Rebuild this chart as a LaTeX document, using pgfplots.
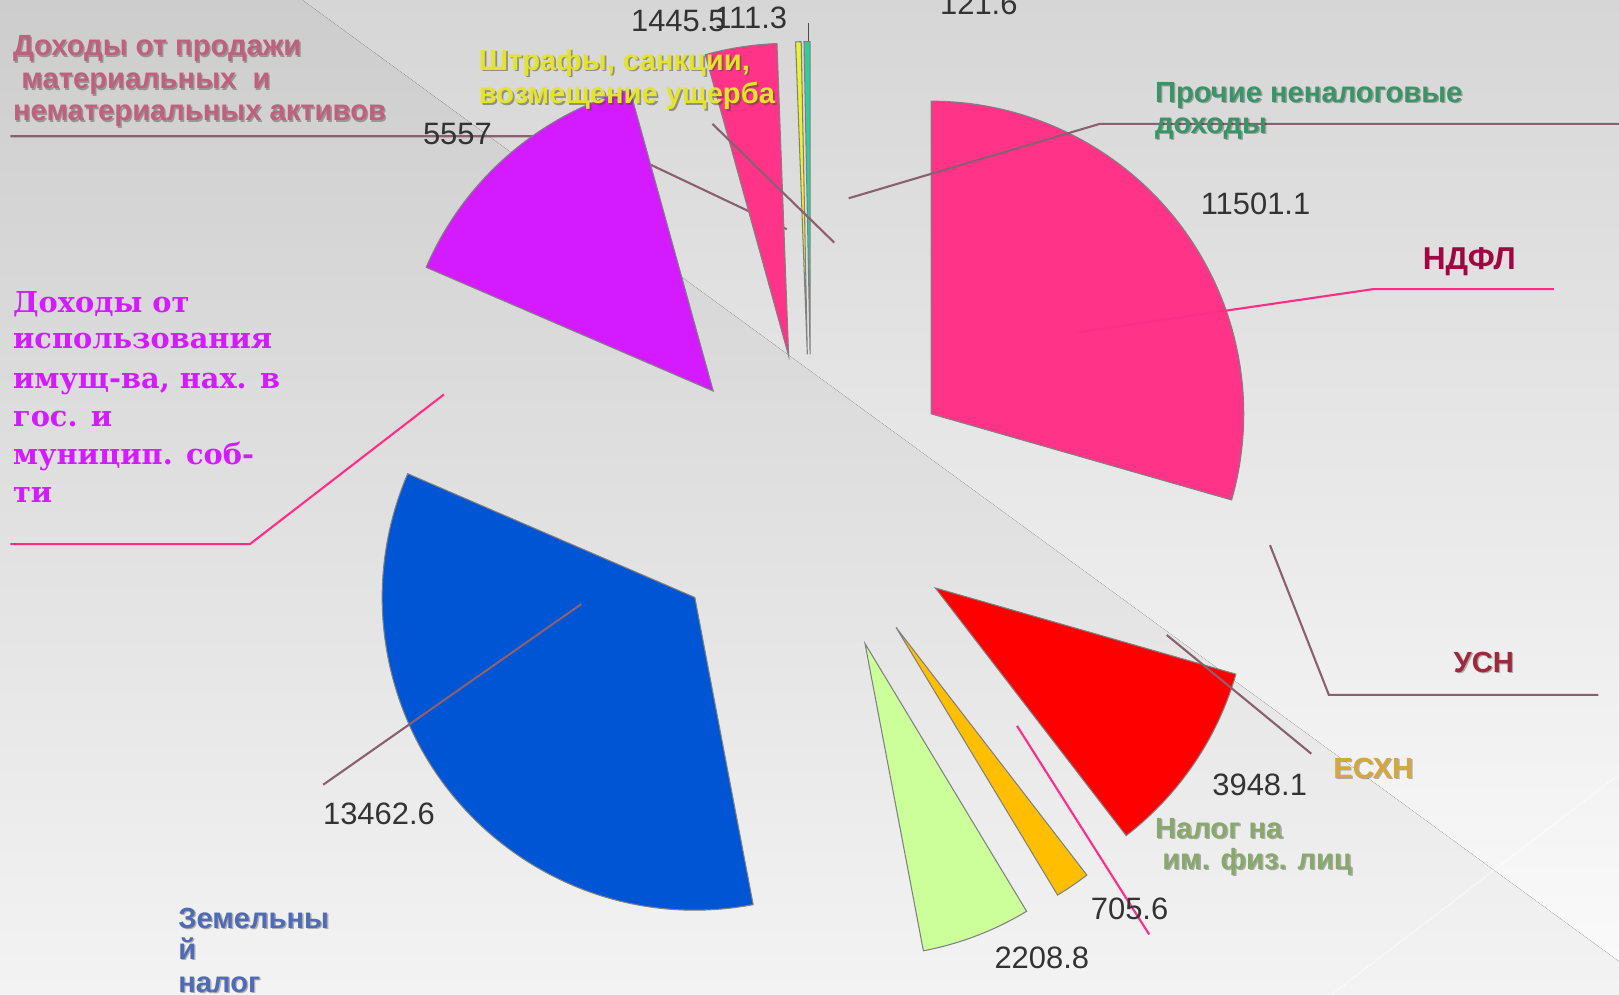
\documentclass[border=0pt]{standalone}
\usepackage{fontspec}
\setmainfont{Liberation Sans}
\newfontfamily\slab{DejaVu Serif}
\usepackage{pgfplots}
\usepackage{pgfplotstable}
\pgfplotsset{compat=1.18}

\definecolor{cNDFL}{HTML}{FF3388}
\definecolor{cUSN}{HTML}{FF0000}
\definecolor{cESHN}{HTML}{FFBF00}
\definecolor{cIFL}{HTML}{CCFF99}
\definecolor{cZEM}{HTML}{0055D4}
\definecolor{cISP}{HTML}{D41AFF}
\definecolor{cPROD}{HTML}{FF3388}
\definecolor{cSHTR}{HTML}{EEF22A}
\definecolor{cPROCH}{HTML}{33CC99}
\definecolor{leadM}{HTML}{8A6070}
\definecolor{leadP}{HTML}{FF2D87}
\definecolor{numc}{HTML}{333333}
\definecolor{bgTop}{HTML}{CDCDCD}
\definecolor{bgBot}{HTML}{F3F3F3}
\definecolor{bgTopL}{HTML}{D6D6D6}
\definecolor{bgBotL}{HTML}{FAFAFA}
\definecolor{tProd}{RGB}{192,96,126}
\definecolor{tShtr}{RGB}{228,228,44}
\definecolor{tProch}{RGB}{58,148,102}
\definecolor{tNDFL}{RGB}{158,8,66}
\definecolor{tUSN}{RGB}{160,40,60}
\definecolor{tESHN}{RGB}{212,168,60}
\definecolor{tIFL}{RGB}{136,168,108}
\definecolor{tZem}{RGB}{79,107,181}

% values of the pie, clockwise from 12 o'clock
\pgfplotstableread{
name value col
NDFL 11501.1 cNDFL
USN 3948.1 cUSN
ESHN 705.6 cESHN
IFL 2208.8 cIFL
ZEM 13462.6 cZEM
ISP 5557 cISP
PROD 1445.5 cPROD
SHTR 111.3 cSHTR
PROCH 121.6 cPROCH
}\piedata

\gdef\total{0}
\foreach \i in {0,...,8}{%
  \pgfplotstablegetelem{\i}{value}\of\piedata
  \xdef\total{\fpeval{\total+\pgfplotsretval}}%
}
\gdef\cum{0}
\foreach \i in {0,...,8}{%
  \pgfplotstablegetelem{\i}{value}\of\piedata
  \let\v\pgfplotsretval
  \expandafter\xdef\csname aS\i\endcsname{\fpeval{90-360*\cum/\total}}%
  \xdef\cum{\fpeval{\cum+\v}}%
  \expandafter\xdef\csname aE\i\endcsname{\fpeval{90-360*\cum/\total}}%
  \expandafter\xdef\csname aM\i\endcsname{\fpeval{(\csname aS\i\endcsname+\csname aE\i\endcsname)/2}}%
  \pgfplotstablegetelem{\i}{col}\of\piedata
  \expandafter\xdef\csname col\i\endcsname{\pgfplotsretval}%
}
\def\rad{3.128cm}
\def\expl{1.497cm}

\tikzset{
  lab/.style={anchor=base west, inner sep=0pt, font=\fontsize{8.3}{9.3}\selectfont\bfseries},
  num/.style={anchor=center, inner sep=0pt, text=numc, font=\fontsize{8.8}{10}\selectfont},
  slabl/.style={anchor=base west, inner sep=0pt, text={cISP}, font=\slab\fontsize{8.2}{10}\selectfont\bfseries},
  lm/.style={draw=leadM, line width=0.6pt},
  lp/.style={draw=leadP, line width=0.6pt},
}
% label with a soft dark shadow: [anchor]{x}{y}{colour}{text}
\newcommand\lbl[5][base west]{%
  \node[lab, anchor=#1, text=black, opacity=0.28, xshift=0.4pt, yshift=-0.4pt] at (axis cs:#2,#3) {#5};
  \node[lab, anchor=#1, text=#4] at (axis cs:#2,#3) {#5};}

\begin{document}
\begin{tikzpicture}
\begin{axis}[x=0.010325cm, y=0.010325cm, xmin=0, xmax=1568, ymin=0, ymax=963,
  y dir=reverse, hide axis, enlargelimits=false, clip=true]
% background
\fill[top color=bgTop, bottom color=bgBot] (axis cs:0,0) rectangle (axis cs:1568,963);
\fill[top color=bgTopL, bottom color=bgBotL] (axis cs:293,0) -- (axis cs:1568,0) -- (axis cs:1568,931) -- cycle;
\draw[white, opacity=0.45, line width=0.4pt] (axis cs:1568,750) -- (axis cs:1290,963);
\coordinate (TL) at (axis cs:0,0);
\coordinate (BR) at (axis cs:1568,963);

% leader drawn beneath the slices
\draw[lm] (axis cs:10,132) -- (axis cs:572,132) -- (axis cs:762,222);

% slices
\pgfplotsinvokeforeach{0,...,8}{
  \filldraw[fill=\csname col#1\endcsname, draw=black!50, line width=0.3pt]
    ([shift={(\csname aM#1\endcsname:\expl)}]axis cs:786,488)
    -- ++(\csname aS#1\endcsname:\rad)
    arc[start angle=\csname aS#1\endcsname, end angle=\csname aE#1\endcsname, radius=\rad]
    -- cycle;
}

% leaders
\draw[lm] (axis cs:690,120) -- (axis cs:808,235);
\draw[lm] (axis cs:822,192) -- (axis cs:1065,120) -- (axis cs:1568,120);
\draw[lp] (axis cs:1043,322) -- (axis cs:1330,280) -- (axis cs:1505,280);
\draw[lp] (axis cs:10,527) -- (axis cs:242,527) -- (axis cs:430,382);
\draw[lm] (axis cs:313,760) -- (axis cs:563,585);
\draw[lm] (axis cs:1230,528) -- (axis cs:1287,673) -- (axis cs:1548,673);
\draw[lm] (axis cs:1130,615) -- (axis cs:1270,730);
\draw[lp] (axis cs:985,703) -- (axis cs:1113,905);
\draw[black!70, line width=0.5pt] (axis cs:783,22) -- (axis cs:783,40);

% value labels
\node[num] at (axis cs:657,20) {1445.5};
\node[num] at (axis cs:727,17) {111.3};
\node[num] at (axis cs:948,4) {121.6};
\node[num] at (axis cs:443,130) {5557};
\node[num] at (axis cs:1216,197) {11501.1};
\node[num] at (axis cs:1220,760) {3948.1};
\node[num] at (axis cs:1094,880) {705.6};
\node[num] at (axis cs:1009,928) {2208.8};
\node[num] at (axis cs:367,788) {13462.6};

% category labels
\lbl{12}{54}{tProd}{Доходы от продажи}
\lbl{20}{86}{tProd}{материальных\ \ и}
\lbl{12}{117}{tProd}{нематериальных активов}

\node[lab, text=black!60!olive, opacity=0.5, xshift=0.5pt, yshift=-0.5pt] at (axis cs:463,68) {Штрафы, санкции,};
\node[lab, text=tShtr] at (axis cs:463,68) {Штрафы, санкции,};
\node[lab, text=black!60!olive, opacity=0.5, xshift=0.5pt, yshift=-0.5pt] at (axis cs:463,100) {возмещение ущерба};
\node[lab, text=tShtr] at (axis cs:463,100) {возмещение ущерба};

\lbl{1118}{99}{tProch}{Прочие неналоговые}
\lbl{1118}{129}{tProch}{доходы}

\node[lab, anchor=base, text=tNDFL, font=\fontsize{9}{10}\selectfont\bfseries] at (axis cs:1423,261) {НДФЛ};
\lbl[base]{1437}{651}{tUSN}{УСН}
\lbl[base]{1330}{754}{tESHN}{ЕСХН}

\lbl{1118}{812}{tIFL}{Налог на}
\lbl{1125}{842}{tIFL}{им. физ. лиц}

\lbl{172}{899}{tZem}{Земельны}
\lbl{172}{929}{tZem}{й}
\lbl{172}{961}{tZem}{налог}

\node[slabl] at (axis cs:12,303) {Доходы от};
\node[slabl] at (axis cs:12,338) {использования};
\node[slabl] at (axis cs:12,376) {имущ-ва, нах. в};
\node[slabl] at (axis cs:12,413) {гос. и};
\node[slabl] at (axis cs:12,450) {муницип. соб-};
\node[slabl] at (axis cs:12,487) {ти};
\end{axis}
\pgfresetboundingbox
\useasboundingbox (TL) rectangle (BR);
\end{tikzpicture}
\end{document}
